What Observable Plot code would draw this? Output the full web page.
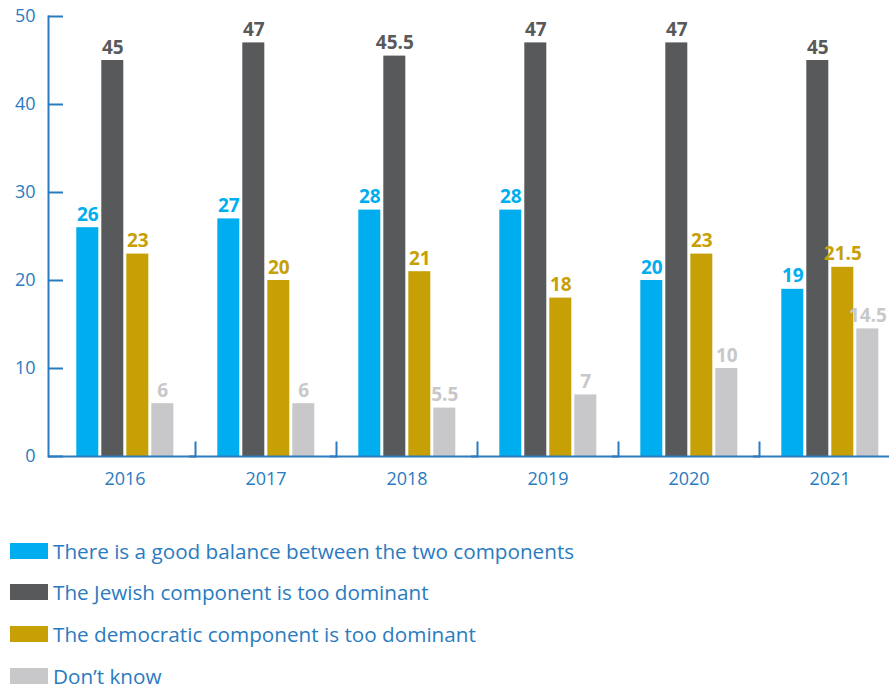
<!DOCTYPE html>
<html>
<head>
<meta charset="utf-8">
<script src="https://cdn.jsdelivr.net/npm/d3@7"></script>
<script src="https://cdn.jsdelivr.net/npm/@observablehq/plot@0.6"></script>
<style>
  html, body { margin: 0; padding: 0; background: #fff; overflow: hidden; width: 889px; height: 687px; }
  #chart svg { max-width: none !important; }
  #legend { margin-top: 30px; font-family: "Open Sans", sans-serif; font-size: 20.7px; color: #2a7bc0; }
  .row { display: flex; align-items: center; height: 41.6px; }
  .sw { width: 38px; height: 16px; margin-left: 10px; margin-right: 5px; flex: none; }
</style>
</head>
<body>
<div id="chart"></div>
<div id="legend"></div>
<script>
const years = ["2016", "2017", "2018", "2019", "2020", "2021"];
const seriesNames = [
  "There is a good balance between the two components",
  "The Jewish component is too dominant",
  "The democratic component is too dominant",
  "Don\u2019t know"
];
const balance = [26, 27, 28, 28, 20, 19];
const jewish = [45, 47, 45.5, 47, 47, 45];
const democratic = [23, 20, 21, 18, 23, 21.5];
const dontKnow = [6, 6, 5.5, 7, 10, 14.5];
const colors = ["#00aeef", "#58595b", "#c6a005", "#c8c8ca"];
const yTicks = [0, 10, 20, 30, 40, 50];
const blue = "#2a7bc0";

const seriesValues = [balance, jewish, democratic, dontKnow];
const data = [];
years.forEach((yr, i) => {
  seriesNames.forEach((s, j) => data.push({year: yr, series: s, value: seriesValues[j][i]}));
});

const chart = Plot.plot({
  width: 901,
  height: 500,
  marginLeft: 52.7,
  marginRight: 0,
  marginTop: 16,
  marginBottom: 44,
  style: {fontFamily: "'Open Sans', sans-serif", fontSize: "18px", color: blue, overflow: "visible", background: "transparent", maxWidth: "none"},
  fx: {domain: years, padding: 0, label: null},
  x: {domain: seriesNames, paddingInner: 0.115, paddingOuter: 0.77, axis: null},
  y: {domain: [0, 50], axis: null},
  color: {domain: seriesNames, range: colors},
  marks: [
    Plot.barY(data, {fx: "year", x: "series", y: "value", fill: "series"}),
    Plot.text(data, {fx: "year", x: "series", y: "value", text: d => String(d.value), fill: "series",
      dy: -7, lineAnchor: "bottom", fontWeight: "bold", fontSize: 19}),
    Plot.axisY(yTicks, {tickSize: -15, tickPadding: 28, dx: -6, strokeWidth: 2, label: null, fontSize: 18}),
    Plot.axisFx({anchor: "bottom", tickSize: 0, tickPadding: 16, label: null, fontSize: 18}),
    Plot.frame({anchor: "left", facetAnchor: "left", dx: -6, stroke: blue, strokeWidth: 2}),
    Plot.frame({anchor: "right", insetTop: 426, stroke: blue, strokeWidth: 2}),
    Plot.ruleY([0], {stroke: blue, strokeWidth: 2, insetLeft: -6})
  ]
});
document.getElementById("chart").appendChild(chart);

const legend = document.getElementById("legend");
seriesNames.forEach((s, j) => {
  const row = document.createElement("div");
  row.className = "row";
  const sw = document.createElement("div");
  sw.className = "sw";
  sw.style.background = colors[j];
  const t = document.createElement("span");
  t.textContent = s;
  row.appendChild(sw);
  row.appendChild(t);
  legend.appendChild(row);
});
</script>
</body>
</html>
